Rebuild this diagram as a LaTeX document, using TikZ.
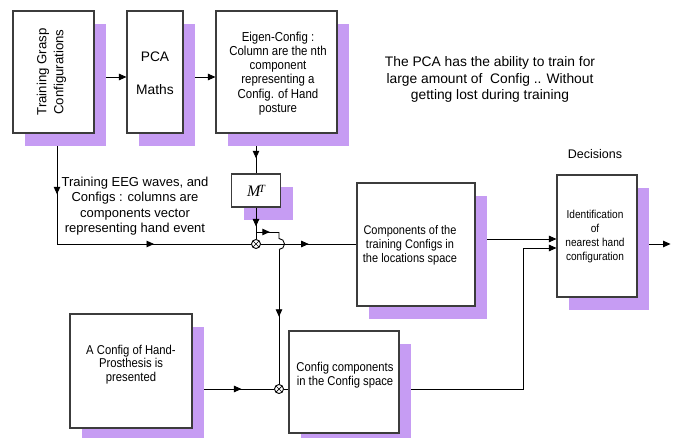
\documentclass[tikz,border=0pt]{standalone}
\usepackage{fontspec}
\setmainfont{Liberation Sans}
\newfontfamily\cond[FakeStretch=0.88]{Liberation Sans}
\newfontfamily\serifit{Liberation Serif}
\usetikzlibrary{arrows.meta,shadows,decorations.markings,calc}
\definecolor{shade}{RGB}{198,156,243}
\definecolor{boxline}{RGB}{60,60,60}
\pgfdeclarelayer{background}
\pgfsetlayers{background,main}
\tikzset{
 blk/.style={draw=boxline, line width=1.1pt, fill=white, inner sep=0pt,
   general shadow={fill=shade, shadow xshift=12pt, shadow yshift=-13pt}},
 conn/.style={line width=0.9pt, draw=black},
 arr/.style={conn, -{Triangle[length=7.5pt,width=6.5pt]}},
 midarr/.style={conn, postaction={decorate},
   decoration={markings, mark=at position #1 with {\arrow{Triangle[length=7.5pt,width=6.5pt]}}}},
 midarr/.default=0.5,
 mult/.style={circle, draw, line width=0.9pt, fill=white, minimum size=9pt, inner sep=0pt,
   path picture={\draw[line width=0.7pt] (path picture bounding box.north west) -- (path picture bounding box.south east)
     (path picture bounding box.north east) -- (path picture bounding box.south west);}},
 txt/.style={align=center, inner sep=0pt},
}
\begin{document}
\begin{tikzpicture}[x=1pt,y=-1pt]
\useasboundingbox (0,0) rectangle (679,438);
% boxes
\node[blk, minimum width=81pt, minimum height=122pt] (b1) at (53.5,72) {};
\node[blk, minimum width=56pt, minimum height=122pt] (b2) at (155,72) {};
\node[blk, minimum width=121pt, minimum height=122pt] (b3) at (276.5,72) {};
\node[blk, minimum width=49pt, minimum height=33pt] (mt) at (256,190.5) {};
\node[blk, minimum width=118pt, minimum height=123pt] (b4) at (416,244.5) {};
\node[blk, minimum width=80pt, minimum height=122pt] (b5) at (597,236) {};
\node[blk, minimum width=122pt, minimum height=114pt] (b6) at (131,371) {};
\node[blk, minimum width=110pt, minimum height=102pt] (b7) at (344,382) {};
% multipliers
\node[mult] (x1) at (256,244) {};
\node[mult] (x2) at (279,389) {};
% texts
\node[txt, rotate=90, font=\fontsize{13.2}{17}\selectfont] (t1) at (51.5,72) {Training Grasp\\Configurations};
\node[txt, font=\fontsize{13.8}{16.5}\selectfont] (t2) at (155,73.5) {PCA\\[16.5pt]Maths};
\node[txt, font=\cond\fontsize{13}{14.2}\selectfont] (t3) at (278,73.5) {Eigen-Config :\\Column are the nth\\component\\representing a\\Config. of Hand\\posture};
\node[txt, font=\serifit\itshape\fontsize{16}{16}\selectfont] (tm) at (256,190.5) {M\kern-1.5pt\raisebox{4pt}{\fontsize{11}{11}\selectfont T}};
\node[txt, font=\cond\fontsize{12.5}{14}\selectfont] (t4) at (410,245) {Components of the\\training Configs in\\the locations space};
\node[txt, font=\cond\fontsize{11.5}{14.3}\selectfont] (t5) at (595,236.5) {Identification\\of\\nearest hand\\configuration};
\node[txt, font=\cond\fontsize{12.8}{13.8}\selectfont] (t6) at (131,364.5) {A Config of Hand-\\Prosthesis is\\presented};
\node[txt, font=\cond\fontsize{12.8}{14}\selectfont] (t7) at (345,375) {Config components\\in the Config space};
\node[txt, font=\fontsize{13}{15.3}\selectfont] (teeg) at (135,206) {Training EEG waves, and\\Configs : columns are\\components vector\\representing hand event};
\node[txt, font=\fontsize{13.8}{16.5}\selectfont] (tnote) at (490,79.5) {The PCA has the ability to train for\\large amount of\ \ Config .. Without\\getting lost during training};
\node[txt, font=\fontsize{12.5}{14}\selectfont] (tdec) at (595,154) {Decisions};
% coordinates
\coordinate (c1) at (57,244);
\coordinate (bA) at (256,232);
\coordinate (bB) at (279,232);
\coordinate (j1) at (279,238.5);
\coordinate (j2) at (279,249.5);
\coordinate (c2) at (523,248);
% connectors behind the boxes
\begin{pgfonlayer}{background}
\draw[arr] ([yshift=-5pt]b1.east) -- ([yshift=-5pt]b1.east -| b2.west);
\draw[arr] ([yshift=-5pt]b2.east) -- ([yshift=-5pt]b2.east -| b3.west);
\draw[midarr=0.62] (b3.south -| mt) -- (mt.north);
\draw[midarr=0.55] (b1.south -| c1) -- (c1);
\draw[midarr=0.5] (c1) -- (x1.west);
\draw[midarr=0.5] (x1.east) -- (b4.west |- x1);
\draw[arr] ([yshift=5.5pt]b4.east) -- ([yshift=5.5pt]b4.east -| b5.west);
\draw[arr] ([yshift=-8pt]b5.east) -- ++(33,0);
\draw[midarr=0.6] (b6.east |- x2) -- (x2.west);
\draw[conn] (x2.east) -- (b7.west |- x2);
\draw[arr] (b7.east |- x2) -| (c2) -- (c2 -| b5.west);
\end{pgfonlayer}
% connectors on top
\draw[midarr=0.6] (mt.south) -- (x1.north);
\draw[midarr=0.6] (bA) -- (bB);
\draw[conn] (bB) -- (j1) arc[start angle=90, end angle=-90, radius=5.5pt];
\draw[midarr=0.5] (j2) -- (x2.north);
\end{tikzpicture}
\end{document}
